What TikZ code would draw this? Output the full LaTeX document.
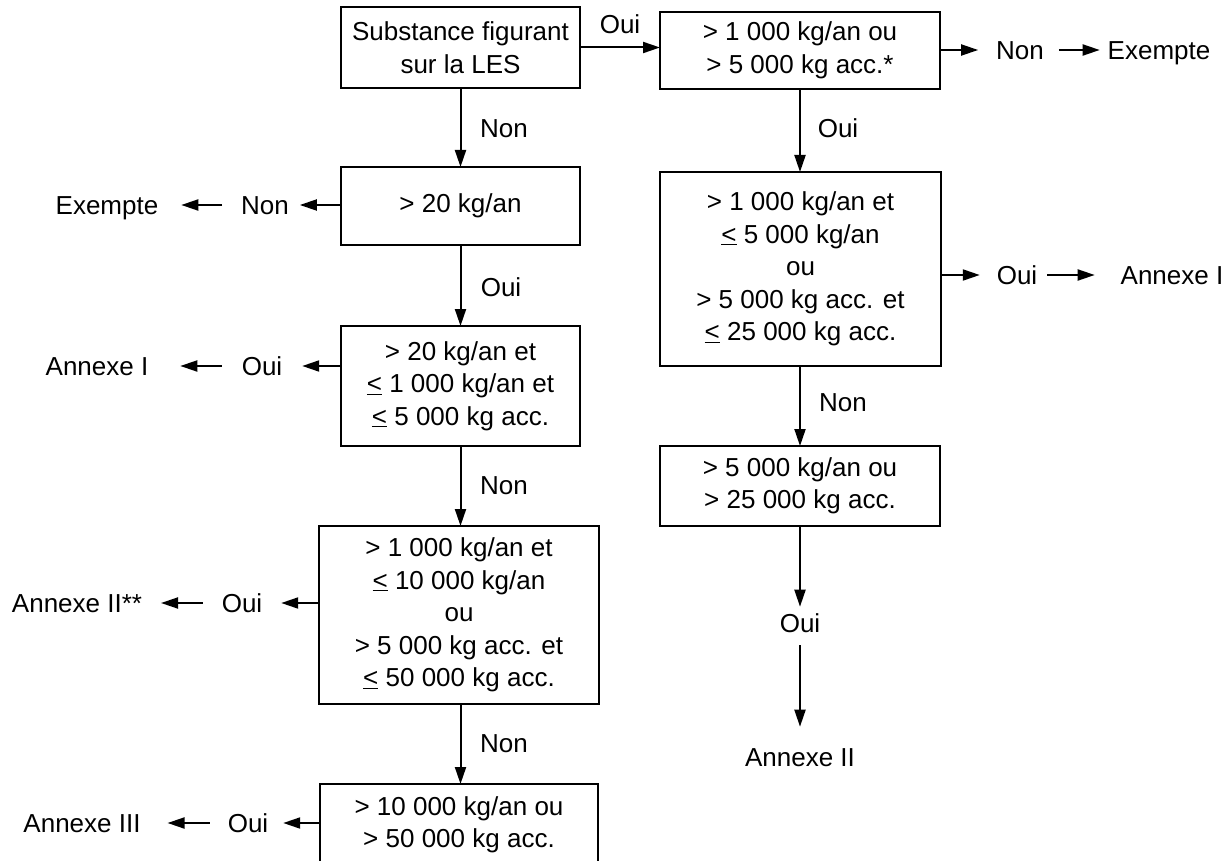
\documentclass[tikz,border=0pt]{standalone}
\usepackage{fontspec}
\setmainfont{Liberation Sans}
\usetikzlibrary{arrows.meta}
\newcommand\lequ{\underline{<}}
\begin{document}
\begin{tikzpicture}[x=1pt,y=-1pt,
  txt/.style={font=\fontsize{26}{32.5}\selectfont},
  box/.style={txt,draw,line width=2pt,inner sep=0pt,outer sep=0pt,align=center},
  lbl/.style={txt,inner sep=0pt,outer sep=0pt,text height=18.6pt,text depth=0pt},
  arr/.style={line width=2pt,-{Triangle[length=17pt,width=11pt]}}]
\clip (0,0) rectangle (1231,861);
\fill[white] (0,0) rectangle (1231,861);

% decision boxes, left column
\node[box,minimum width=239pt,minimum height=81pt] (A) at (460.5,47.5) {Substance figurant\\sur la LES};
\node[box,minimum width=239pt,minimum height=78pt] (C) at (460.5,206) {> 20 kg/an};
\node[box,minimum width=239pt,minimum height=120pt] (D) at (460.5,386) {> 20 kg/an et\\\lequ{} 1 000 kg/an et\\\lequ{} 5 000 kg acc.};
\node[box,minimum width=280pt,minimum height=178pt] (F) at (459,615) {> 1 000 kg/an et\\\lequ{} 10 000 kg/an\\ou\\> 5 000 kg acc. et\\\lequ{} 50 000 kg acc.};
\node[box,minimum width=278pt,minimum height=82pt] (H) at (459,825) {> 10 000 kg/an ou\\> 50 000 kg acc.};

% decision boxes, right column
\node[box,minimum width=280pt,minimum height=77pt] (B) at (800,50.5) {> 1 000 kg/an ou\\> 5 000 kg acc.*};
\node[box,minimum width=281pt,minimum height=194pt] (E) at (800.5,269) {> 1 000 kg/an et\\\lequ{} 5 000 kg/an\\ou\\> 5 000 kg acc. et\\\lequ{} 25 000 kg acc.};
\node[box,minimum width=280pt,minimum height=80pt] (G) at (800,486) {> 5 000 kg/an ou\\> 25 000 kg acc.};

% labels on the vertical and top connectors
\node[lbl] (ouiAB) at (620,24) {Oui};
\node[lbl] (nonAC) at (504,128) {Non};
\node[lbl] (ouiCD) at (501,287) {Oui};
\node[lbl] (nonDF) at (504,485) {Non};
\node[lbl] (nonFH) at (504,743) {Non};
\node[lbl] (ouiBE) at (838,128) {Oui};
\node[lbl] (nonEG) at (843,402) {Non};

% side outcomes
\node[lbl] (nonC) at (265,205) {Non};
\node[lbl] (exC) at (107,205) {Exempte};
\node[lbl] (ouiD) at (262,366) {Oui};
\node[lbl] (anD) at (97,366) {Annexe I};
\node[lbl] (ouiF) at (242,603) {Oui};
\node[lbl] (anF) at (77,603) {Annexe II**};
\node[lbl] (ouiH) at (248,823) {Oui};
\node[lbl] (anH) at (82,823) {Annexe III};
\node[lbl] (nonB) at (1020,50) {Non};
\node[lbl] (exB) at (1159,50) {Exempte};
\node[lbl] (ouiE) at (1017,275) {Oui};
\node[lbl] (anE) at (1172,275) {Annexe I};
\node[lbl] (ouiG) at (800,623) {Oui};
\node[lbl] (anG) at (800,757) {Annexe II};

% main flow
\draw[arr] (A.east) -- (A.east -| B.west);
\draw[arr] (A.south) -- (A.south |- C.north);
\draw[arr] (C.south) -- (C.south |- D.north);
\draw[arr] (D.south) -- (D.south |- F.north);
\draw[arr] (D.south |- F.south) -- (D.south |- H.north);
\draw[arr] (B.south) -- (B.south |- E.north);
\draw[arr] (B.south |- E.south) -- (B.south |- G.north);
\draw[arr,shorten >=7pt] (G.south) -- (ouiG.north);
\draw[arr,shorten <=13pt,shorten >=21pt] (ouiG.south) -- (anG.north);

% left branch arrows
\draw[arr,shorten >=11pt] (C.west |- nonC) -- (nonC.east);
\draw[arr,shorten <=19pt,shorten >=23pt] (nonC.west) -- (exC.east);
\draw[arr,shorten >=20pt] (D.west |- ouiD) -- (ouiD.east);
\draw[arr,shorten <=20pt,shorten >=32pt] (ouiD.west) -- (anD.east);
\draw[arr,shorten >=19pt] (F.west |- ouiF) -- (ouiF.east);
\draw[arr,shorten <=19pt,shorten >=19pt] (ouiF.west) -- (anF.east);
\draw[arr,shorten >=15pt] (H.west |- ouiH) -- (ouiH.east);
\draw[arr,shorten <=18pt,shorten >=27pt] (ouiH.west) -- (anH.east);

% right branch arrows
\draw[arr,shorten >=18pt] (B.east |- nonB) -- (nonB.west);
\draw[arr,shorten <=15pt,shorten >=8pt] (nonB.east) -- (exB.west);
\draw[arr,shorten >=17pt] (E.east |- ouiE) -- (ouiE.west);
\draw[arr,shorten <=10pt,shorten >=26pt] (ouiE.east) -- (anE.west);
\end{tikzpicture}
\end{document}
